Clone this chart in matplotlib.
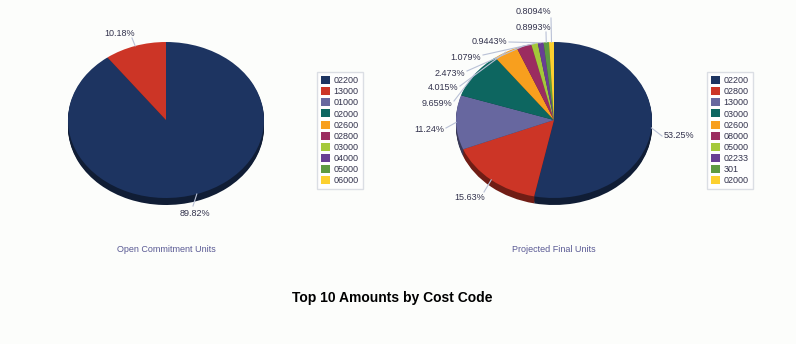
import matplotlib.pyplot as plt
from matplotlib.patches import Patch
from matplotlib.colors import to_rgb

plt.rcParams['font.family'] = ['Liberation Sans', 'DejaVu Sans']

W, H = 796, 344
BG = '#fcfdfb'
TXT = '#33334d'
LEAD = '#b9c1d6'

palette = ['#1d3461', '#cc3526', '#67679f', '#0d6660', '#f89f1e',
           '#9b2c60', '#a4c93a', '#683f93', '#5e9a41', '#fcd02f']

# Open Commitment Units
left_codes = ['02200', '13000', '01000', '02000', '02600',
              '02800', '03000', '04000', '05000', '06000']
left_values = [89.82, 10.18]
left_labels = ['89.82%', '10.18%']

# Projected Final Units
right_codes = ['02200', '02800', '13000', '03000', '02600',
               '08000', '05000', '02233', '301', '02000']
right_values = [53.25, 15.63, 11.24, 9.659, 4.015, 2.473, 1.079, 0.9443, 0.8993, 0.8094]
right_labels = ['53.25%', '15.63%', '11.24%', '9.659%', '4.015%', '2.473%',
                '1.079%', '0.9443%', '0.8993%', '0.8094%']

# pie geometry in pixels: x radius, y radius, depth of the side
RX, RY, DEPTH = 98, 78, 7


def shade(c, f=0.55):
    r, g, b = to_rgb(c)
    return (r * f, g * f, b * f)


def add_pie_axes(fig, cx, cy):
    ax = fig.add_axes([(cx - RX) / W, 1 - (cy + RY) / H, 2 * RX / W, 2 * RY / H])
    ax.set_facecolor('none')
    return ax


def draw_pie(ax, values, colors):
    step = 1.0 / RY
    # extruded side, built from stacked darker copies
    for k in range(DEPTH, 0, -1):
        wedges, _ = ax.pie(values, colors=[shade(c) for c in colors], startangle=90,
                           counterclock=False, center=(0, -k * step),
                           wedgeprops=dict(linewidth=0))
        for w in wedges:
            w.set_clip_on(False)
    wedges, _ = ax.pie(values, colors=colors, startangle=90, counterclock=False,
                       wedgeprops=dict(linewidth=0, antialiased=True))
    for w in wedges:
        w.set_clip_on(False)
    ax.set_aspect('auto')
    ax.set_xlim(-1, 1)
    ax.set_ylim(-1, 1)
    ax.axis('off')
    return wedges


def label_pie(ax, wedges, labels, spots):
    # spots: (text x offset px, text y offset px, ha, line end x px, line end y px)
    import numpy as np
    for w, lab, (tx, ty, ha, lx, ly) in zip(wedges, labels, spots):
        mid = np.deg2rad((w.theta1 + w.theta2) / 2)
        ex, ey = np.cos(mid), np.sin(mid)
        ax.plot([ex, lx / RX], [ey, -ly / RY], color=LEAD, lw=0.8, clip_on=False)
        ax.text(tx / RX, -ty / RY, lab, ha=ha, va='center', fontsize=6.5, color=TXT)


fig = plt.figure(figsize=(W / 100, H / 100), dpi=100, facecolor=BG)

# left pie
axl = add_pie_axes(fig, 166, 120)
wl = draw_pie(axl, left_values, palette[:len(left_values)])
label_pie(axl, wl, left_labels, [
    (29, 93, 'center', 27, 86),
    (-46, -86, 'center', -34, -82),
])

# right pie
axr = add_pie_axes(fig, 554, 120)
wr = draw_pie(axr, right_values, palette)
label_pie(axr, wr, right_labels, [
    (110, 16, 'left', 108, 16),
    (-84, 77, 'center', -70, 72),
    (-110, 10, 'right', -108, 8),
    (-102, -17, 'right', -100, -19),
    (-96, -32, 'right', -94, -34),
    (-89, -47, 'right', -87, -49),
    (-73, -63, 'right', -71, -65),
    (-47, -78, 'right', -45, -78),
    (-3, -93, 'right', -8, -88),
    (-3, -109, 'right', -3, -102),
])


def add_legend(codes, x, y):
    handles = [Patch(facecolor=c, edgecolor='none') for c in palette]
    fig.legend(handles, codes, loc='upper left', bbox_to_anchor=(x / W, 1 - y / H),
               frameon=True, fancybox=False, edgecolor='#d3d7de', facecolor='white',
               fontsize=6.5, labelcolor=TXT, handlelength=1.0, handleheight=1.0,
               handletextpad=0.4, labelspacing=0.22, borderpad=0.45,
               borderaxespad=0)


add_legend(left_codes, 317, 72)
add_legend(right_codes, 707, 72)

fig.text(166 / W, 1 - 250 / H, 'Open Commitment Units', ha='center', va='center',
         fontsize=6.5, color='#5a5a94')
fig.text(554 / W, 1 - 250 / H, 'Projected Final Units', ha='center', va='center',
         fontsize=6.5, color='#5a5a94')
fig.text(392 / W, 1 - 298 / H, 'Top 10 Amounts by Cost Code', ha='center', va='center',
         fontsize=10, fontweight='bold', color='black')

fig.savefig('out.png', dpi=100, facecolor=BG)
